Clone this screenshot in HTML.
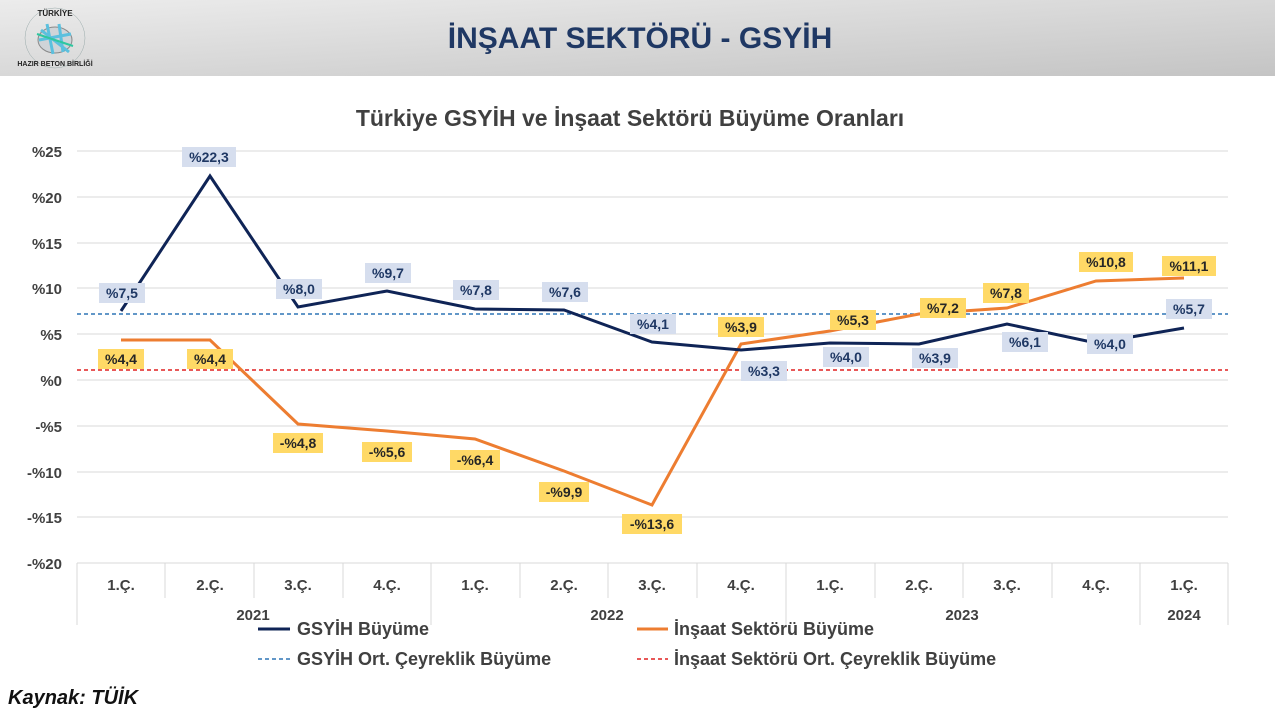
<!DOCTYPE html>
<html><head><meta charset="utf-8"><style>
body{margin:0;width:1275px;height:715px;background:#fff;overflow:hidden;font-family:"Liberation Sans","DejaVu Sans",sans-serif}
</style></head><body>
<svg width="1275" height="715" viewBox="0 0 1275 715" xmlns="http://www.w3.org/2000/svg" font-family="Liberation Sans, DejaVu Sans, sans-serif">
<defs><linearGradient id="hg" x1="0" y1="0" x2="1" y2="1"><stop offset="0" stop-color="#ececec"/><stop offset="1" stop-color="#c4c4c4"/></linearGradient></defs>
<rect x="0" y="0" width="1275" height="76" fill="url(#hg)"/>
<g transform="translate(55,38)">
<circle r="30" fill="none" stroke="#9aa" stroke-width="0.5"/>
<ellipse cx="0" cy="2" rx="17" ry="13" fill="#cfd4d8" stroke="#888" stroke-width="1"/>
<path d="M-14,-8 L14,14 M-8,-14 L-2,16 M4,-14 L8,14 M-16,2 L16,-4" stroke="#5bc0de" stroke-width="3" fill="none"/>
<path d="M-18,-4 L18,8" stroke="#2ec7a0" stroke-width="2"/>
<text x="0" y="-22" font-size="8" font-weight="bold" text-anchor="middle" fill="#222">TÜRKİYE</text>
<text x="0" y="28" font-size="7" font-weight="bold" text-anchor="middle" fill="#222">HAZIR BETON BİRLİĞİ</text>
</g>
<text x="640" y="48" font-size="30" font-weight="bold" fill="#1f3864" text-anchor="middle">İNŞAAT SEKTÖRÜ - GSYİH</text>
<text x="630" y="126" font-size="23" font-weight="bold" fill="#404040" text-anchor="middle">Türkiye GSYİH ve İnşaat Sektörü Büyüme Oranları</text>
<g stroke="#d9d9d9" stroke-width="1">
<line x1="77" y1="151" x2="1228" y2="151"/><line x1="77" y1="197" x2="1228" y2="197"/><line x1="77" y1="243" x2="1228" y2="243"/><line x1="77" y1="288" x2="1228" y2="288"/><line x1="77" y1="334" x2="1228" y2="334"/><line x1="77" y1="380" x2="1228" y2="380"/><line x1="77" y1="426" x2="1228" y2="426"/><line x1="77" y1="472" x2="1228" y2="472"/><line x1="77" y1="517" x2="1228" y2="517"/><line x1="77" y1="563" x2="1228" y2="563"/>
<line x1="77" y1="563" x2="77" y2="625"/><line x1="165" y1="563" x2="165" y2="598"/><line x1="254" y1="563" x2="254" y2="598"/><line x1="343" y1="563" x2="343" y2="598"/><line x1="431" y1="563" x2="431" y2="625"/><line x1="520" y1="563" x2="520" y2="598"/><line x1="608" y1="563" x2="608" y2="598"/><line x1="697" y1="563" x2="697" y2="598"/><line x1="786" y1="563" x2="786" y2="625"/><line x1="875" y1="563" x2="875" y2="598"/><line x1="963" y1="563" x2="963" y2="598"/><line x1="1052" y1="563" x2="1052" y2="598"/><line x1="1140" y1="563" x2="1140" y2="625"/><line x1="1228" y1="563" x2="1228" y2="625"/>
</g>
<g font-size="15" font-weight="bold" fill="#404040" text-anchor="end">
<text x="62" y="157">%25</text><text x="62" y="203">%20</text><text x="62" y="249">%15</text><text x="62" y="294">%10</text><text x="62" y="340">%5</text><text x="62" y="386">%0</text><text x="62" y="432">-%5</text><text x="62" y="478">-%10</text><text x="62" y="523">-%15</text><text x="62" y="569">-%20</text>
</g>
<g font-size="15" font-weight="bold" fill="#404040" text-anchor="middle">
<text x="121" y="590">1.Ç.</text><text x="210" y="590">2.Ç.</text><text x="298" y="590">3.Ç.</text><text x="387" y="590">4.Ç.</text><text x="475" y="590">1.Ç.</text><text x="564" y="590">2.Ç.</text><text x="652" y="590">3.Ç.</text><text x="741" y="590">4.Ç.</text><text x="830" y="590">1.Ç.</text><text x="919" y="590">2.Ç.</text><text x="1007" y="590">3.Ç.</text><text x="1096" y="590">4.Ç.</text><text x="1184" y="590">1.Ç.</text>
<text x="253" y="620">2021</text><text x="607" y="620">2022</text><text x="962" y="620">2023</text><text x="1184" y="620">2024</text>
</g>
<line x1="77" y1="314" x2="1228" y2="314" stroke="#2e75b6" stroke-width="1.5" stroke-dasharray="4,3"/>
<line x1="77" y1="370" x2="1228" y2="370" stroke="#e02020" stroke-width="1.5" stroke-dasharray="4,3"/>
<polyline fill="none" stroke="#ed7d31" stroke-width="3" points="121,340 210,340 298,424 387,431 475,439 564,471 652,505 741,344 830,331 919,314 1007,308 1096,281 1184,278"/>
<polyline fill="none" stroke="#0f2456" stroke-width="3" points="121,311 210,176 298,307 387,291 475,309 564,310 652,342 741,350 830,343 919,344 1007,324 1096,343 1184,328"/>
<g font-size="14" font-weight="bold" fill="#1f3864" text-anchor="middle">
<g fill="#d6deee">
<rect x="99" y="283" width="46" height="20"/><rect x="182" y="147" width="54" height="20"/><rect x="276" y="279" width="46" height="20"/><rect x="365" y="263" width="46" height="20"/><rect x="453" y="280" width="46" height="20"/><rect x="542" y="282" width="46" height="20"/><rect x="630" y="314" width="46" height="20"/><rect x="741" y="361" width="46" height="20"/><rect x="823" y="347" width="46" height="20"/><rect x="912" y="348" width="46" height="20"/><rect x="1002" y="332" width="46" height="20"/><rect x="1087" y="334" width="46" height="20"/><rect x="1166" y="299" width="46" height="20"/>
</g>
<text x="122" y="298">%7,5</text><text x="209" y="162">%22,3</text><text x="299" y="294">%8,0</text><text x="388" y="278">%9,7</text><text x="476" y="295">%7,8</text><text x="565" y="297">%7,6</text><text x="653" y="329">%4,1</text><text x="764" y="376">%3,3</text><text x="846" y="362">%4,0</text><text x="935" y="363">%3,9</text><text x="1025" y="347">%6,1</text><text x="1110" y="349">%4,0</text><text x="1189" y="314">%5,7</text>
</g>
<g font-size="14" font-weight="bold" fill="#262626" text-anchor="middle">
<g fill="#ffd966">
<rect x="98" y="349" width="46" height="20"/><rect x="187" y="349" width="46" height="20"/><rect x="273" y="433" width="50" height="20"/><rect x="362" y="442" width="50" height="20"/><rect x="450" y="450" width="50" height="20"/><rect x="539" y="482" width="50" height="20"/><rect x="622" y="514" width="60" height="20"/><rect x="718" y="317" width="46" height="20"/><rect x="830" y="310" width="46" height="20"/><rect x="920" y="298" width="46" height="20"/><rect x="983" y="283" width="46" height="20"/><rect x="1079" y="252" width="54" height="20"/><rect x="1162" y="256" width="54" height="20"/>
</g>
<text x="121" y="364">%4,4</text><text x="210" y="364">%4,4</text><text x="298" y="448">-%4,8</text><text x="387" y="457">-%5,6</text><text x="475" y="465">-%6,4</text><text x="564" y="497">-%9,9</text><text x="652" y="529">-%13,6</text><text x="741" y="332">%3,9</text><text x="853" y="325">%5,3</text><text x="943" y="313">%7,2</text><text x="1006" y="298">%7,8</text><text x="1106" y="267">%10,8</text><text x="1189" y="271">%11,1</text>
</g>
<g font-size="18" font-weight="bold" fill="#404040">
<line x1="258" y1="629" x2="290" y2="629" stroke="#0f2456" stroke-width="3"/><text x="297" y="635">GSYİH Büyüme</text>
<line x1="637" y1="629" x2="668" y2="629" stroke="#ed7d31" stroke-width="3"/><text x="674" y="635">İnşaat Sektörü Büyüme</text>
<line x1="258" y1="659" x2="290" y2="659" stroke="#2e75b6" stroke-width="1.5" stroke-dasharray="4,3"/><text x="297" y="665">GSYİH Ort. Çeyreklik Büyüme</text>
<line x1="637" y1="659" x2="668" y2="659" stroke="#e02020" stroke-width="1.5" stroke-dasharray="4,3"/><text x="674" y="665">İnşaat Sektörü Ort. Çeyreklik Büyüme</text>
</g>
<text x="8" y="704" font-size="20" font-weight="bold" font-style="italic" fill="#111">Kaynak: TÜİK</text>
</svg>
</body></html>
